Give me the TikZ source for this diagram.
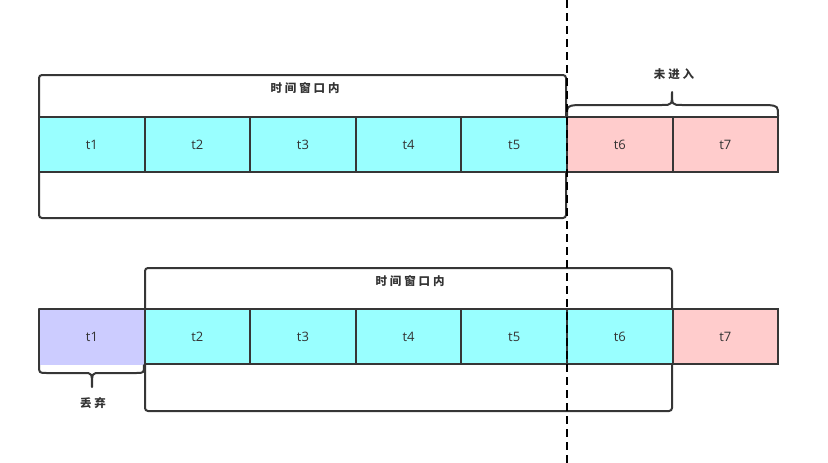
\documentclass[tikz,border=0pt]{standalone}
\usepackage{fontspec}
\setmainfont{Open Sans}
\newfontfamily\cjk[LetterSpace=25]{Noto Sans CJK SC}
\definecolor{cyanc}{HTML}{99FFFF}
\definecolor{pinkc}{HTML}{FFCCCC}
\definecolor{purpc}{HTML}{CCCCFF}
\definecolor{strokec}{HTML}{363636}
\definecolor{txtc}{HTML}{333333}
\begin{document}
\begin{tikzpicture}[x=1pt,y=-1pt,
  cell/.style={draw=strokec,line width=2pt,minimum width=105.6pt,minimum height=55pt,inner sep=0pt,outer sep=0pt,anchor=north west,text=txtc,font=\fontsize{13}{15}\selectfont},
  win/.style={draw=strokec,line width=2pt,rounded corners=3pt,inner sep=0pt,outer sep=0pt,anchor=north west},
  lbl/.style={text=txtc,font=\cjk\bfseries\fontsize{11.5}{13}\selectfont,inner sep=0pt},
  brc/.style={draw=strokec,line width=2pt,line cap=round,line join=round}]
\useasboundingbox (0,0) rectangle (828,463);
% top row
\node[win,minimum width=527pt,minimum height=143pt] (w1) at (39,75) {};
\node[lbl] (l1) at (305,88) {时间窗口内};
\foreach \i/\c in {1/cyanc,2/cyanc,3/cyanc,4/cyanc,5/cyanc,6/pinkc,7/pinkc}{
  \node[cell,fill=\c] (a\i) at ({39+(\i-1)*105.6},117) {t\i};
}
% brace top
\coordinate (b1s) at (567,116);
\coordinate (b1e) at (778,116);
\draw[brc] (b1s) .. controls (567,106) .. (577,105) -- (662,105) .. controls (672,105) .. (672,92)
  .. controls (672,105) .. (682,105) -- (768,105) .. controls (778,106) .. (b1e);
\node[lbl] (l2) at (674,74) {未进入};
% bottom row
\node[win,minimum width=527pt,minimum height=143pt] (w2) at (145,268) {};
\node[lbl] (l3) at (410,281) {时间窗口内};
\fill[purpc] (39,309) rectangle (145,365);
\draw[draw=strokec,line width=2pt,line join=round] (39,365) -- (39,309) -- (145,309);
\node[text=txtc,font=\fontsize{13}{15}\selectfont] (c1) at (92,337) {t1};
\foreach \i/\c in {2/cyanc,3/cyanc,4/cyanc,5/cyanc,6/cyanc,7/pinkc}{
  \node[cell,fill=\c] (c\i) at ({39+(\i-1)*105.6},309) {t\i};
}
% brace bottom
\coordinate (b2s) at (39,365);
\coordinate (b2e) at (144,365);
\draw[brc] (b2s) .. controls (39,373) .. (47,373) -- (84,373) .. controls (92,373) .. (92,387)
  .. controls (92,373) .. (100,373) -- (136,373) .. controls (144,373) .. (b2e);
\node[lbl] (l4) at (93,403) {丢弃};
% dashed line
\coordinate (d1) at (567,0);
\coordinate (d2) at (567,463);
\draw[black,line width=2pt,dash pattern=on 8pt off 5pt] (d1) -- (d2);
\end{tikzpicture}
\end{document}
